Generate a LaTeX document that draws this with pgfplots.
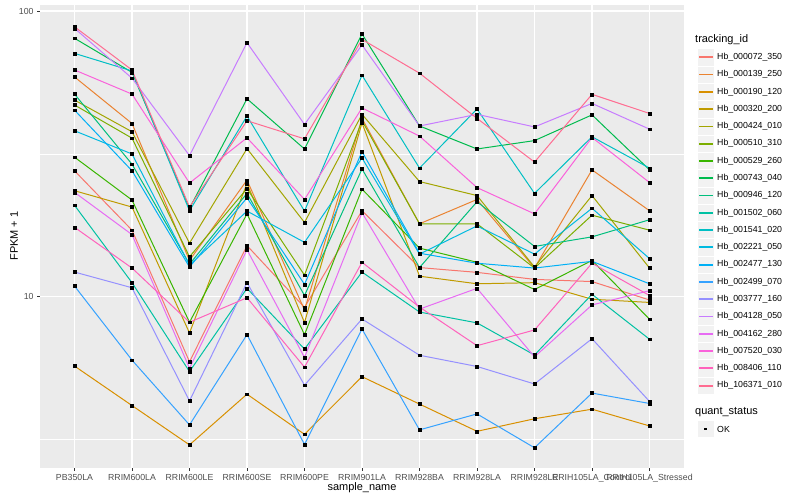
\documentclass[border=0pt]{standalone}
\usepackage{fontspec}
\setmainfont{Liberation Sans}
\usepackage{pgfplots}
\usepackage{pgfplotstable}
\pgfplotsset{compat=1.18}

% ggplot hue palette, 20 levels
\definecolor{c01}{HTML}{F8766D}
\definecolor{c02}{HTML}{EA8331}
\definecolor{c03}{HTML}{D89000}
\definecolor{c04}{HTML}{C09B00}
\definecolor{c05}{HTML}{A3A500}
\definecolor{c06}{HTML}{7CAE00}
\definecolor{c07}{HTML}{39B600}
\definecolor{c08}{HTML}{00BB4E}
\definecolor{c09}{HTML}{00BF7D}
\definecolor{c10}{HTML}{00C1A3}
\definecolor{c11}{HTML}{00BFC4}
\definecolor{c12}{HTML}{00BAE0}
\definecolor{c13}{HTML}{00B0F6}
\definecolor{c14}{HTML}{35A2FF}
\definecolor{c15}{HTML}{9590FF}
\definecolor{c16}{HTML}{C77CFF}
\definecolor{c17}{HTML}{E76BF3}
\definecolor{c18}{HTML}{FA62DB}
\definecolor{c19}{HTML}{FF62BC}
\definecolor{c20}{HTML}{FF6C91}
\definecolor{panel}{HTML}{EBEBEB}
\definecolor{keybg}{HTML}{F2F2F2}
\definecolor{grey30}{HTML}{4D4D4D}
\definecolor{grey20}{HTML}{333333}

% FPKM + 1 per sample (x = sample index), one column per tracking_id
\pgfplotstableread{
x  s01   s02  s03  s04  s05  s06  s07  s08  s09   s10  s11   s12   s13   s14  s15   s16  s17  s18  s19  s20
0  27.6  58.8 5.72 23.5 48.8 46.9 30.8 80.3 51.2  20.9 71.1  38.1  45.0  10.9 12.2  87.0 23.2 62.2 17.5 88.1
1  17.1  40.4 4.16 20.6 37.8 35.9 21.8 61.0 29.1  11.2 61.7  31.6  27.6  6.0  10.75 58.2 16.5 51.2 12.6 62.2
2  5.92  13.4 3.03 7.47 15.4 13.8 8.14 20.4 13.0  5.47 20.0  12.9  12.7  3.56 4.32  31.2 5.62 25.0 8.14 20.6
3  15.1  25.6 4.56 24.9 33.0 23.9 19.5 49.3 23.0  10.7 42.9  19.95 22.2  7.37 11.2  77.5 14.6 36.0 9.92 41.3
4  9.18  8.98 3.30 8.12 18.2 11.9 7.37 32.9 10.1  6.56 19.95 15.5  11.05 3.04 4.9   40.1 6.13 21.9 5.67 35.7
5  20.0  42.1 5.25 40.6 43.5 41.3 23.8 83.1 28.0  12.2 59.6  30.6  32.2  7.71 8.36  76.1 19.7 45.8 13.2 79.6
6  12.65 18.0 4.21 11.8 25.3 18.0 14.8 39.6 12.65 8.84 28.2  14.1  14.2  3.42 6.24  39.6 9.05 36.5 9.2  60.6
7  12.17 21.9 3.38 11.1 22.6 18.0 13.2 32.9 21.5  8.1  45.4  17.7  13.1  3.89 5.7   43.5 10.7 24.1 6.74 42.1
8  11.5  12.6 3.74 11.2 12.7 12.6 10.6 35.2 15.0  6.25 23.0  14.1  12.6  2.96 4.95  39.3 6.16 19.5 7.65 29.6
9  11.3  27.8 4.04 9.8  22.6 19.3 13.4 43.3 16.2  10.2 36.3  20.4  13.3  4.6  7.13  47.5 9.36 36.1 13.1 51.1
10 9.74  20.0 3.53 9.55 12.6 17.1 8.34 27.8 18.6  7.1  28.2  13.6  11.1  4.23 4.3   38.6 10.5 25.1 10.1 43.8
}\fpkm

\begin{document}
\begin{tikzpicture}[x=1bp,y=1bp]
\useasboundingbox (0,0) rectangle (800,500);
\begin{axis}[
  at={(40bp,32bp)}, anchor=south west,
  scale only axis, width=644bp, height=463bp,
  xmin=-0.6, xmax=10.6,
  ymode=log, ymin=2.515, ymax=105,
  axis background/.style={fill=panel},
  axis line style={draw=none},
  xtick={0,...,10},
  xticklabels={PB350LA,RRIM600LA,RRIM600LE,RRIM600SE,RRIM600PE,RRIM901LA,RRIM928BA,RRIM928LA,RRIM928LE,RRIH105LA\_Control,RRIH105LA\_Stressed},
  ytick={10,100}, yticklabels={10,100},
  minor ytick={3.1623,31.623},
  xmajorgrids, ymajorgrids, yminorgrids,
  major grid style={white, line width=1.07pt},
  minor grid style={white, line width=0.53pt},
  tick pos=left, tick align=outside,
  major tick length=2.75bp, minor tick length=0pt,
  tick style={grey20, line width=0.5pt},
  minor tick style={draw=none},
  tick label style={font=\fontsize{8.8}{10}\selectfont, text=grey30},
  xticklabel style={inner sep=1pt, yshift=-2.5bp},
  yticklabel style={inner sep=1pt, xshift=-2.5bp},
  clip=true,
]
\pgfplotsinvokeforeach{01,02,03,04,05,06,07,08,09,10,11,12,13,14,15,16,17,18,19,20}{
  \addplot[color=c#1, line width=1.0pt, mark=none] table[x=x, y=s#1] {\fpkm};
}
\pgfplotsinvokeforeach{01,02,03,04,05,06,07,08,09,10,11,12,13,14,15,16,17,18,19,20}{
  \addplot[only marks, mark=square*, mark size=1.4pt, black] table[x=x, y=s#1] {\fpkm};
}
\end{axis}

% axis titles
\node[rotate=90, font=\fontsize{11}{13}\selectfont] at (14,264) {FPKM + 1};
\node[font=\fontsize{11}{13}\selectfont] at (362,12) {sample\_name};

% legend: tracking_id
\node[anchor=west, font=\fontsize{11}{13}\selectfont, inner sep=0pt] at (695,460) {tracking\_id};
\foreach \cc/\nn [count=\i from 0] in {c01/000072\_350,c02/000139\_250,c03/000190\_120,c04/000320\_200,c05/000424\_010,c06/000510\_310,c07/000529\_260,c08/000743\_040,c09/000946\_120,c10/001502\_060,c11/001541\_020,c12/002221\_050,c13/002477\_130,c14/002499\_070,c15/003777\_160,c16/004128\_050,c17/004162\_280,c18/007520\_030,c19/008406\_110,c20/106371\_010}{
  \pgfmathsetmacro{\yy}{442.7-17.28*\i}
  \fill[keybg, draw=white, line width=0.5pt] (697,\yy-8.64) rectangle (714.3,\yy+8.64);
  \fill[color=\cc] (698.7,\yy-0.9) rectangle (712.6,\yy+0.9);
  \node[anchor=west, font=\fontsize{8.8}{10}\selectfont, inner sep=0pt] at (717,\yy) {Hb\_\nn};
}

% legend: quant_status
\node[anchor=west, font=\fontsize{11}{13}\selectfont, inner sep=0pt] at (695,88.3) {quant\_status};
\fill[keybg, draw=white, line width=0.5pt] (697,71-8.64) rectangle (714.3,71+8.64);
\fill[black] (704.2,69.6) rectangle (707.0,72.4);
\node[anchor=west, font=\fontsize{8.8}{10}\selectfont, inner sep=0pt] at (717,71) {OK};
\end{tikzpicture}
\end{document}
